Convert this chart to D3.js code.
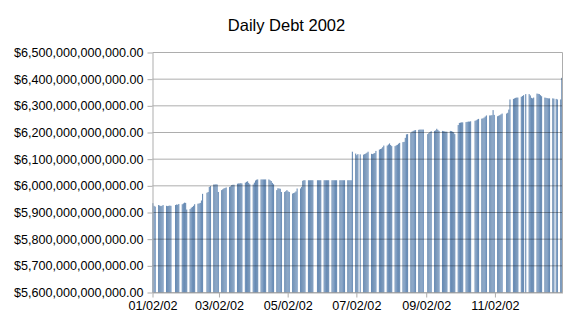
<!DOCTYPE html>
<html>
<head>
<meta charset="utf-8">
<script src="https://cdn.jsdelivr.net/npm/d3@7"></script>
<style>
  body { margin: 0; background: #fff; }
  text { font-family: "Liberation Sans", Arial, sans-serif; fill: #000; }
</style>
</head>
<body>
<div class="chart"></div>
<script>
// Daily total public debt, 2002 (billions of dollars), one row per week Mon..Fri
// null = holiday or outside the year
let weekStarts = [
  "2001-12-31", "2002-01-07", "2002-01-14", "2002-01-21", "2002-01-28",
  "2002-02-04", "2002-02-11", "2002-02-18", "2002-02-25", "2002-03-04",
  "2002-03-11", "2002-03-18", "2002-03-25", "2002-04-01", "2002-04-08",
  "2002-04-15", "2002-04-22", "2002-04-29", "2002-05-06", "2002-05-13",
  "2002-05-20", "2002-05-27", "2002-06-03", "2002-06-10", "2002-06-17",
  "2002-06-24", "2002-07-01", "2002-07-08", "2002-07-15", "2002-07-22",
  "2002-07-29", "2002-08-05", "2002-08-12", "2002-08-19", "2002-08-26",
  "2002-09-02", "2002-09-09", "2002-09-16", "2002-09-23", "2002-09-30",
  "2002-10-07", "2002-10-14", "2002-10-21", "2002-10-28", "2002-11-04",
  "2002-11-11", "2002-11-18", "2002-11-25", "2002-12-02", "2002-12-09",
  "2002-12-16", "2002-12-23", "2002-12-30"
];

let weeklyDebt = [
  [null, null, 5935, 5925, 5922],
  [5928, 5926, 5924, 5925, 5928],
  [5925, 5924, 5925, 5926, 5925],
  [null, 5928, 5930, 5929, 5932],
  [5931, 5934, 5937, 5936, 5911],
  [5913, 5918, 5921, 5925, 5931],
  [5933, 5934, 5936, 5945, 5970],
  [null, 5974, 5977, 5996, 5999],
  [6005, 6005, 6006, 6005, 5977],
  [5984, 5987, 5990, 5992, 5994],
  [5996, 5998, 6003, 6004, 6004],
  [6008, 6009, 6009, 6010, 6009],
  [6012, 6015, 6017, 6011, 6006],
  [6005, 6012, 6020, 6023, 6024],
  [6024, 6024, 6024, 6024, 6024],
  [6024, 6021, 6018, 6011, 6006],
  [5984, 5991, 5990, 5989, 5977],
  [5977, 5980, 5984, 5979, 5977],
  [5971, 5973, 5975, 5979, 5990],
  [5990, 5996, 6019, 6021, 6021],
  [6021, 6021, 6021, 6021, 6021],
  [null, 6021, 6021, 6021, 6021],
  [6021, 6021, 6021, 6021, 6021],
  [6021, 6021, 6021, 6021, 6021],
  [6021, 6021, 6021, 6021, 6021],
  [6021, 6021, 6021, 6021, 6128],
  [6121, 6115, 6119, null, 6118],
  [6117, 6119, 6121, 6124, 6128],
  [6120, 6119, 6121, 6123, 6131],
  [6136, 6138, 6140, 6145, 6151],
  [6151, 6155, 6159, 6153, 6149],
  [6149, 6152, 6154, 6158, 6161],
  [6164, 6165, 6180, 6193, 6194],
  [6199, 6203, 6206, 6208, 6209],
  [6210, 6211, 6211, 6211, 6211],
  [null, 6194, 6198, 6202, 6205],
  [6206, 6208, 6214, 6210, 6206],
  [6206, 6205, 6204, 6203, 6203],
  [6206, 6205, 6203, 6201, 6194],
  [6228, 6236, 6237, 6238, 6238],
  [6239, 6240, 6241, 6241, 6242],
  [null, 6244, 6246, 6249, 6251],
  [6252, 6253, 6256, 6260, 6264],
  [6264, 6264, 6265, 6284, 6266],
  [6261, 6263, 6265, 6268, 6271],
  [null, 6271, 6274, 6286, 6324],
  [6326, 6328, 6330, 6331, 6331],
  [6334, 6337, 6340, null, 6344],
  [6344, 6339, 6330, 6328, 6331],
  [6346, 6345, 6344, 6340, 6336],
  [6331, 6330, 6329, 6328, 6328],
  [6328, 6327, null, 6326, 6324],
  [6324, 6405, null, null, null]
];

let yTicks = [5600, 5700, 5800, 5900, 6000, 6100, 6200, 6300, 6400, 6500];
let xTicks = ["2002-01-02", "2002-03-02", "2002-05-02", "2002-07-02", "2002-09-02", "2002-11-02"];

let svgWidth = 573;
let svgHeight = 322;

let margin = {
  top: 52.5,
  right: 10.5,
  bottom: 29.5,
  left: 152.5
};

let width = svgWidth - margin.left - margin.right;
let height = svgHeight - margin.top - margin.bottom;

let parseDay = d3.timeParse("%Y-%m-%d");

// Step 1: flatten weeks into one row per business day
let debtData = [];
weekStarts.forEach(function(ws, w) {
  let monday = parseDay(ws);
  weeklyDebt[w].forEach(function(v, i) {
    if (v !== null) {
      debtData.push({ date: d3.timeDay.offset(monday, i), debt: v * 1e9 });
    }
  });
});

let svg = d3.select(".chart")
  .append("svg")
  .attr("width", svgWidth)
  .attr("height", svgHeight);

let defs = svg.append("defs");
let grad = defs.append("linearGradient")
  .attr("id", "barShade")
  .attr("x1", "0").attr("x2", "1").attr("y1", "0").attr("y2", "0");
grad.append("stop").attr("offset", "0").attr("stop-color", "#3d6898");
grad.append("stop").attr("offset", "1").attr("stop-color", "#9db7d7");

// Title
svg.append("text")
  .attr("x", svgWidth / 2)
  .attr("y", 31)
  .attr("text-anchor", "middle")
  .style("font-size", "16.5px")
  .text("Daily Debt 2002");

let chartGroup = svg.append("g")
  .attr("transform", `translate(${margin.left}, ${margin.top})`);

// Step 2: scales
let xTimeScale = d3.scaleTime()
  .domain([parseDay("2002-01-02"), parseDay("2003-01-01")])
  .range([0, width]);

let yLinearScale = d3.scaleLinear()
  .domain([5600e9, 6500e9])
  .range([height, 0]);

// Step 3: bars, one day wide
chartGroup.selectAll("rect.bar")
  .data(debtData)
  .enter()
  .append("rect")
  .attr("class", "bar")
  .attr("x", d => xTimeScale(d.date))
  .attr("width", d => xTimeScale(d3.timeDay.offset(d.date, 1)) - xTimeScale(d.date))
  .attr("y", d => yLinearScale(d.debt))
  .attr("height", d => height - yLinearScale(d.debt))
  .attr("fill", "url(#barShade)");

// Step 4: gridlines drawn over the bars
chartGroup.selectAll("line.grid")
  .data(yTicks)
  .enter()
  .append("line")
  .attr("class", "grid")
  .attr("x1", 0)
  .attr("x2", width)
  .attr("y1", d => yLinearScale(d * 1e9))
  .attr("y2", d => yLinearScale(d * 1e9))
  .attr("stroke", "#000")
  .attr("stroke-opacity", 0.32);

// right border
chartGroup.append("line")
  .attr("x1", width).attr("x2", width)
  .attr("y1", 0).attr("y2", height)
  .attr("stroke", "#adadad");

// Step 5: axes
let money = d3.format("$,.2f");
let leftAxis = d3.axisLeft(yLinearScale)
  .tickValues(yTicks.map(d => d * 1e9))
  .tickFormat(money)
  .tickSizeInner(5)
  .tickSizeOuter(0)
  .tickPadding(4);

let bottomAxis = d3.axisBottom(xTimeScale)
  .tickValues(xTicks.map(parseDay))
  .tickFormat(d3.timeFormat("%m/%d/%y"))
  .tickSizeInner(5)
  .tickSizeOuter(0)
  .tickPadding(4);

let yAxisG = chartGroup.append("g").call(leftAxis);
let xAxisG = chartGroup.append("g")
  .attr("transform", `translate(0, ${height})`)
  .call(bottomAxis);

[yAxisG, xAxisG].forEach(function(g) {
  g.selectAll("path, line").attr("stroke", "#adadad");
  g.selectAll("text")
    .style("font-size", "12.6px")
    .attr("fill", "#000");
});
</script>
</body>
</html>
